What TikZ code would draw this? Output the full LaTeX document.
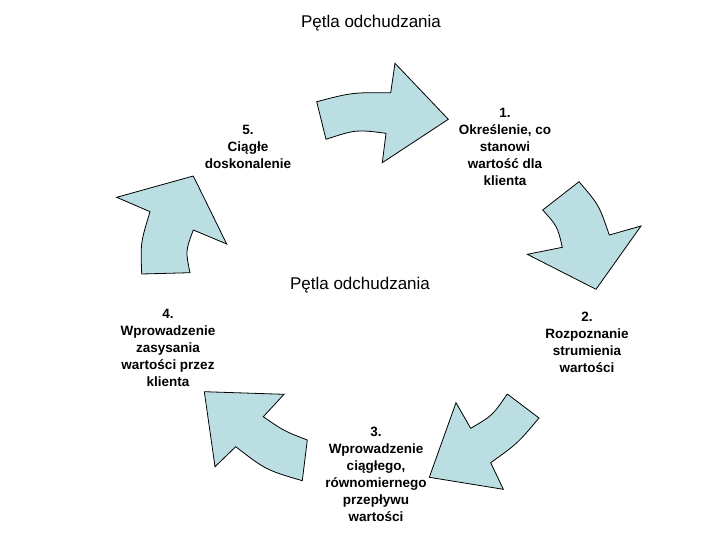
\documentclass[tikz,border=0pt]{standalone}
\usepackage{fontspec}
\setmainfont{Liberation Sans}
\definecolor{arrowfill}{RGB}{186,222,226}
\tikzset{
  bigarrow/.style={draw=black, line width=0.8pt, fill=arrowfill, line join=miter},
  titletext/.style={font=\fontsize{17}{20}\selectfont, inner sep=0pt},
  steplabel/.style={font=\bfseries\fontsize{13.5}{17}\selectfont, align=center, inner sep=0pt}
}
\begin{document}
\begin{tikzpicture}[x=1pt,y=-1pt]
\useasboundingbox (0,0) rectangle (720,540);
% arrow 1 (top, to the right)
\draw[bigarrow] (316.7,101.7) .. controls (352,92.5) .. (390.7,92.7) -- (395,63.3) -- (448.3,119.3)
  -- (382.3,162.7) -- (386,133.3) .. controls (356,129.5) .. (326,139.3) -- cycle;
% arrow 2 (right, downwards)
\draw[bigarrow] (579,181.7) .. controls (599,205) .. (609.3,235) -- (641,226) -- (596,289.3)
  -- (527.3,254.3) -- (562.3,247.3) .. controls (557.5,226.5) .. (542.7,210) -- cycle;
% arrow 3 (bottom right, down-left)
\draw[bigarrow] (507.3,394) -- (539,418) .. controls (517.5,443.5) .. (490.7,462.7) -- (503.3,489.3)
  -- (429.3,477.3) -- (456,402.7) -- (470.7,428.3) .. controls (492.5,415.5) .. (507.3,394);
% arrow 4 (bottom left, up-left)
\draw[bigarrow] (204.3,391.7) -- (284,394.3) -- (263.3,416.7) .. controls (284,431) .. (307.3,440)
  -- (302.3,480.7) .. controls (266,470) .. (235.7,446.7) -- (215,466.7) -- cycle;
% arrow 5 (left, up-right)
\draw[bigarrow] (116.7,197.3) -- (193.3,176) -- (226.7,244) -- (193.3,230) .. controls (185.5,251) .. (190,272.7)
  -- (141.7,274) .. controls (140.5,243) .. (150,211.7) -- cycle;
% texts
\node[titletext] (title) at (371,23) {Pętla odchudzania};
\node[titletext] (centre) at (360,285) {Pętla odchudzania};
\node[steplabel] (s1) at (505,147) {1.\\Określenie, co\\stanowi\\wartość dla\\klienta};
\node[steplabel] (s2) at (587,342) {2.\\Rozpoznanie\\strumienia\\wartości};
\node[steplabel] (s3) at (376,474) {3.\\Wprowadzenie\\ciągłego,\\równomiernego\\przepływu\\wartości};
\node[steplabel] (s4) at (168,348) {4.\\Wprowadzenie\\zasysania\\wartości przez\\klienta};
\node[steplabel] (s5) at (248,147) {5.\\Ciągłe\\doskonalenie};
\end{tikzpicture}
\end{document}
